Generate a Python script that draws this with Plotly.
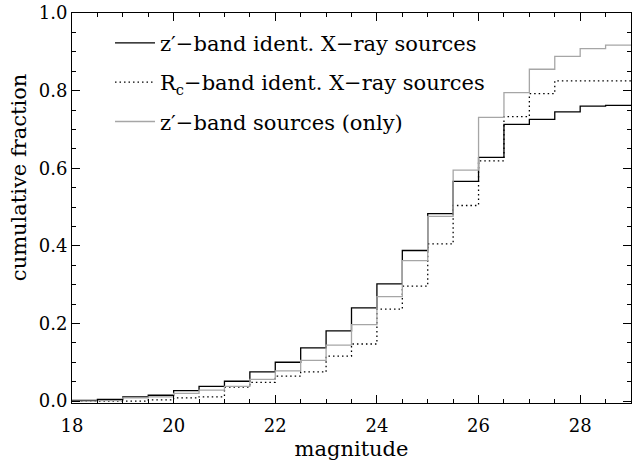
import plotly.graph_objects as go

# left edges of the 0.5 mag bins, plus the right end of the last bin
bin_edges = [18.0, 18.5, 19.0, 19.5, 20.0, 20.5, 21.0, 21.5, 22.0, 22.5, 23.0,
             23.5, 24.0, 24.5, 25.0, 25.5, 26.0, 26.5, 27.0, 27.5, 28.0, 28.5, 29.0]

z_ident = [0.002, 0.004, 0.011, 0.015, 0.027, 0.038, 0.051, 0.075, 0.100, 0.137, 0.181,
           0.240, 0.302, 0.388, 0.483, 0.566, 0.628, 0.713, 0.726, 0.745, 0.760, 0.762]

rc_ident = [0.000, 0.000, 0.000, 0.003, 0.008, 0.011, 0.036, 0.048, 0.064, 0.075, 0.116,
            0.147, 0.237, 0.296, 0.405, 0.504, 0.619, 0.733, 0.792, 0.825, 0.825, 0.825]

z_only = [0.000, 0.001, 0.008, 0.011, 0.020, 0.028, 0.038, 0.056, 0.078, 0.105, 0.144,
          0.197, 0.269, 0.362, 0.476, 0.595, 0.731, 0.795, 0.855, 0.888, 0.908, 0.917]

x_ticks = [18, 20, 22, 24, 26, 28]
y_ticks = [0.0, 0.2, 0.4, 0.6, 0.8, 1.0]

FONT = "DejaVu Serif"


def step_trace(values, name, color, dash, group):
    # repeat the last value so the final step reaches the end of the axis
    return go.Scatter(
        x=bin_edges,
        y=values + [values[-1]],
        mode="lines",
        line=dict(color=color, width=1.3, dash=dash, shape="hv"),
        name=name,
        legendgroup=group,
    )


def create_cumulative_chart():

    fig = go.Figure()

    fig.add_trace(step_trace(z_ident, "z′−band ident. X−ray sources", "black", "solid", "a"))
    fig.add_trace(step_trace(rc_ident, "R<sub>c</sub>−band ident. X−ray sources", "black", "1.5px,3px", "b"))
    fig.add_trace(step_trace(z_only, "z′−band sources (only)", "#a6a6a6", "solid", "c"))

    axis_common = dict(
        showline=True,
        linecolor="black",
        linewidth=1,
        mirror="allticks",
        ticks="inside",
        ticklen=8,
        tickcolor="black",
        showgrid=False,
        zeroline=False,
        ticklabeloverflow="allow",
        tickfont=dict(family=FONT, size=18, color="black"),
    )

    fig.update_xaxes(
        range=[18, 29],
        tickvals=x_ticks,
        ticklabelstandoff=6,
        minor=dict(dtick=0.5, ticks="inside", ticklen=4, tickcolor="black"),
        title=dict(text="magnitude", font=dict(family=FONT, size=21, color="black"), standoff=6),
        **axis_common
    )

    fig.update_yaxes(
        range=[-0.005, 1.0],
        tickvals=y_ticks,
        tickformat=".1f",
        minor=dict(dtick=0.05, ticks="inside", ticklen=4, tickcolor="black"),
        **axis_common
    )

    # y title sits a little above the middle of the axis in the original
    fig.add_annotation(
        text="cumulative fraction",
        xref="paper",
        yref="paper",
        x=-0.096,
        y=0.58,
        xanchor="center",
        yanchor="middle",
        textangle=-90,
        showarrow=False,
        font=dict(family=FONT, size=21, color="black"),
    )

    fig.update_layout(
        width=634,
        height=464,
        margin=dict(l=72, r=2, t=6, b=61),
        plot_bgcolor="white",
        paper_bgcolor="white",
        legend=dict(
            x=0.068,
            y=0.975,
            xanchor="left",
            yanchor="top",
            itemwidth=40,
            traceorder="grouped",
            tracegroupgap=9,
            bgcolor="rgba(0,0,0,0)",
            font=dict(family=FONT, size=21, color="black"),
        ),
    )

    return fig


fig = create_cumulative_chart()
# drop the browser's default body margin so the figure sits at the page corner
fig.write_html(
    "out.html",
    config={"displayModeBar": False},
    post_script="document.body.style.margin='0';",
)
